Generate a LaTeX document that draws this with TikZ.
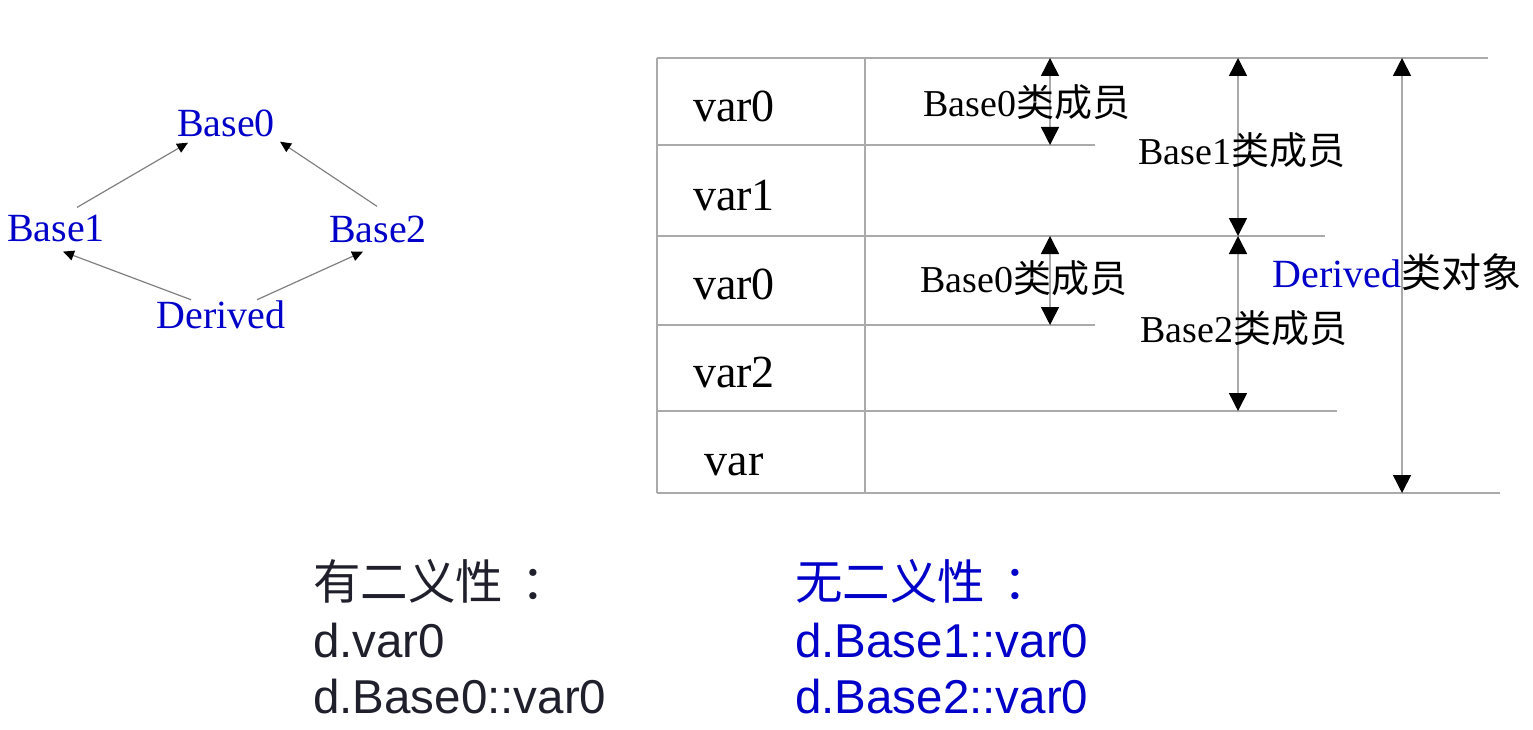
\documentclass[tikz,border=0pt]{standalone}
\usepackage{fontspec}
\setmainfont{Liberation Serif}
\setsansfont{Liberation Sans}
\newfontfamily\cjkfont{Noto Sans CJK SC}
\usetikzlibrary{arrows.meta,positioning}
\definecolor{classblue}{RGB}{0,0,200}
\definecolor{gridgray}{RGB}{170,170,170}
\definecolor{inkdark}{RGB}{32,32,44}
\tikzset{classname/.style={text=classblue,font=\fontsize{40}{44}\selectfont,inner sep=0},
    inherit/.style={draw=gray,line width=1.2pt,-{Triangle[color=black,width=10pt,length=11pt]}},
    gridline/.style={draw=gridgray,line width=1.5pt},
    varcell/.style={font=\fontsize{46}{50}\selectfont,inner sep=0},
    memberlabel/.style={font=\fontsize{38}{42}\selectfont,inner sep=0},
    spanline/.style={draw=gridgray,line width=1.5pt,{Triangle[color=black,width=18pt,length=18pt]}-{Triangle[color=black,width=18pt,length=18pt]}},
    remark/.style={font=\sffamily\fontsize{47.5}{56}\selectfont,anchor=base west,inner sep=0}
}
\newcommand{\classmembers}[1]{#1{\cjkfont 类成员}}
\newcommand{\memberspan}[4]
{
% args: (name, x, y of upper row line, y of lower row line)
    \coordinate (#1top) at (#2,#3);
    \coordinate (#1bot) at (#2,#4);
    \draw [spanline] (#1top) -- (#1bot);
}
\begin{document}
\begin{tikzpicture}[x=1pt,y=-1pt]

\useasboundingbox [fill=white] (0,0) rectangle (1533,730);

% class graph

\node (b0) [classname] at (226,123) {Base0};
\node (b1) [classname] at (56,228) {Base1};
\node (b2) [classname] at (378,229) {Base2};
\node (dv) [classname] at (221,315) {Derived};

\draw [inherit] ([xshift=21pt,yshift=7pt]b1.north) -- ([xshift=-38pt,yshift=-6pt]b0.south);
\draw [inherit] ([xshift=-1pt,yshift=9pt]b2.north) -- ([xshift=54pt,yshift=-5pt]b0.south);
\draw [inherit] ([xshift=-30pt,yshift=1pt]dv.north) -- ([xshift=7pt,yshift=-10pt]b1.south);
\draw [inherit] ([xshift=36pt,yshift=1pt]dv.north) -- ([xshift=-15pt,yshift=-9pt]b2.south);

% memory layout

\foreach \y/\xend in {58/1488,145/1095,236/1325,325/1095,411/1337,493/1500}
    \draw [gridline] (657,\y) -- (\xend,\y);
\draw [gridline] (657,58) -- (657,493);
\draw [gridline] (865,58) -- (865,493);

\foreach \y/\v [count=\i] in {106/var0,196/var1,284/var0,372/var2,465/var}
    \node (cell\i) [varcell] at (734,\y) {\v};

\memberspan{mzero}{1050}{58}{145}
\memberspan{mone}{1238}{58}{236}
\memberspan{mzeroB}{1050}{236}{325}
\memberspan{mtwo}{1238}{236}{411}
\memberspan{dobj}{1402}{58}{493}

\node (labzero) [memberlabel] at (1027,102) {\classmembers{Base0}};
\node (labone) [memberlabel] at (1242,150) {\classmembers{Base1}};
\node (labzeroB) [memberlabel] at (1024,278) {\classmembers{Base0}};
\node (labtwo) [memberlabel] at (1244,328) {\classmembers{Base2}};
\node (labobj) [memberlabel,font=\fontsize{40}{44}\selectfont] at (1397,272) {{\color{classblue}Derived}{\cjkfont 类对象}};

% access

\node (amb) [remark,text=inkdark] at (313,599) {\cjkfont 有二义性\hspace{18pt}：};
\node (amb1) [remark,text=inkdark] at (313,657) {d.var0};
\node (amb2) [remark,text=inkdark] at (313,713) {d.Base0::var0};
\node (unamb) [remark,text=classblue] at (795,599) {\cjkfont 无二义性\hspace{18pt}：};
\node (unamb1) [remark,text=classblue] at (795,657) {d.Base1::var0};
\node (unamb2) [remark,text=classblue] at (795,713) {d.Base2::var0};

\end{tikzpicture}
\end{document}
